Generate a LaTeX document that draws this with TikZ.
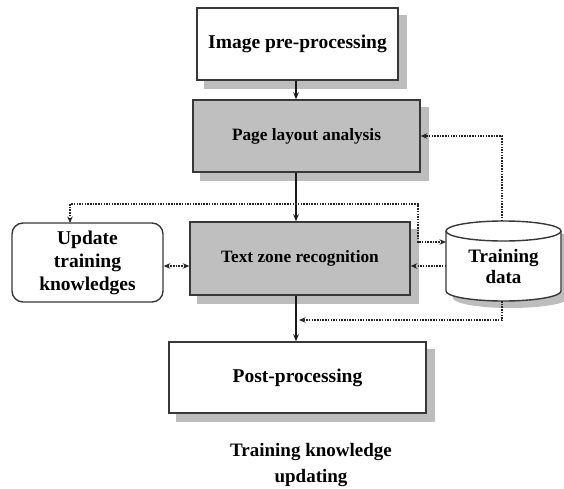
\documentclass[tikz,border=0pt]{standalone}
\usepackage{fontspec}
\setmainfont{Liberation Serif}
\usetikzlibrary{arrows.meta,calc,backgrounds}
\begin{document}
\begin{tikzpicture}[x=1pt,y=-1pt,
  bigfont/.style={font=\fontsize{19.5}{23}\selectfont\bfseries},
  midfont/.style={font=\fontsize{17.3}{21}\selectfont\bfseries},
  box/.style={draw=black!78,line width=1.4pt,inner sep=0pt},
  whitebox/.style={box,fill=white,bigfont},
  graybox/.style={box,fill=black!25,midfont},
  shadowfill/.style={fill=black!26},
  solidarrow/.style={line width=1.7pt,black!90,-{Stealth[length=7pt,width=5.5pt]}},
  dotline/.style={line width=1.6pt,black!85,dash pattern=on 1.5pt off 1.2pt,
    >={Stealth[length=6.5pt,width=5.5pt]}}
]
\useasboundingbox (0,0) rectangle (564,489);

% boxes
\node[whitebox,minimum width=201pt,minimum height=72pt] (pre) at (297.5,44) {\raisebox{-6pt}{Image pre-processing}};
\node[graybox,minimum width=227pt,minimum height=72pt] (pla) at (306.5,136) {\raisebox{2pt}{Page layout analysis}};
\node[graybox,minimum width=220pt,minimum height=73pt] (tzr) at (300,258.5) {Text zone recognition};
\node[draw=black!78,line width=1.4pt,fill=white,rounded corners=11pt,bigfont,align=center,
  minimum width=151pt,minimum height=79pt,inner sep=0pt] (upd) at (87.5,262.5) {Update\\training\\knowledges};
\node[whitebox,minimum width=257pt,minimum height=71pt] (post) at (297.5,377.5) {Post-processing};

% shadows behind the boxes
\begin{scope}[on background layer]
  \foreach \b in {pre,pla,tzr,post}{
    \fill[shadowfill] ($(\b.north west)+(8,8)$) rectangle ($(\b.south east)+(8,8)$);
  }
\end{scope}

% cylinder
\fill[shadowfill] (453,238) -- (453,298) arc[start angle=180,end angle=360,x radius=57.5pt,y radius=10pt]
  -- (568,238) arc[start angle=0,end angle=180,x radius=57.5pt,y radius=10pt] -- cycle;
\draw[draw=black!78,line width=1.4pt,fill=white] (446,231) -- (446,291) arc[start angle=180,end angle=360,x radius=57.5pt,y radius=10pt]
  -- (561,231) arc[start angle=0,end angle=180,x radius=57.5pt,y radius=10pt] -- cycle;
\draw[draw=black!78,line width=1.4pt] (446,231) arc[start angle=180,end angle=360,x radius=57.5pt,y radius=10pt];
\node[align=center,font=\fontsize{19}{21}\selectfont\bfseries] (td) at (503.5,266) {Training\\data};

% caption
\node[align=center,font=\fontsize{19}{25}\selectfont\bfseries] (cap) at (311,465) {Training knowledge\\updating};

% connection points
\coordinate (cT) at (502,221);
\coordinate (cIn) at (446,242);
\coordinate (cM) at (446,266);
\coordinate (cB) at (502,301);
\coordinate (uL) at (70,223);
\coordinate (j1) at (418,204);
\coordinate (j2) at (502,320);
\coordinate (mx) at (296,0);

% solid arrows
\draw[solidarrow] (pre.south -| mx) -- (pla.north -| mx);
\draw[solidarrow] (pla.south -| mx) -- (tzr.north -| mx);
\draw[solidarrow] (tzr.south -| mx) -- (post.north -| mx);

% dotted arrows
\draw[dotline,->] (cT) |- (pla.east);
\draw[dotline,<->] (uL) |- (j1) |- (cIn);
\draw[dotline,->] (cM) -- (tzr.east |- cM);
\draw[dotline,<->] (upd.east |- cM) -- (tzr.west |- cM);
\draw[dotline,->] (cB) -- (j2) -- ($(j2 -| mx)+(3,0)$);
\end{tikzpicture}
\end{document}
